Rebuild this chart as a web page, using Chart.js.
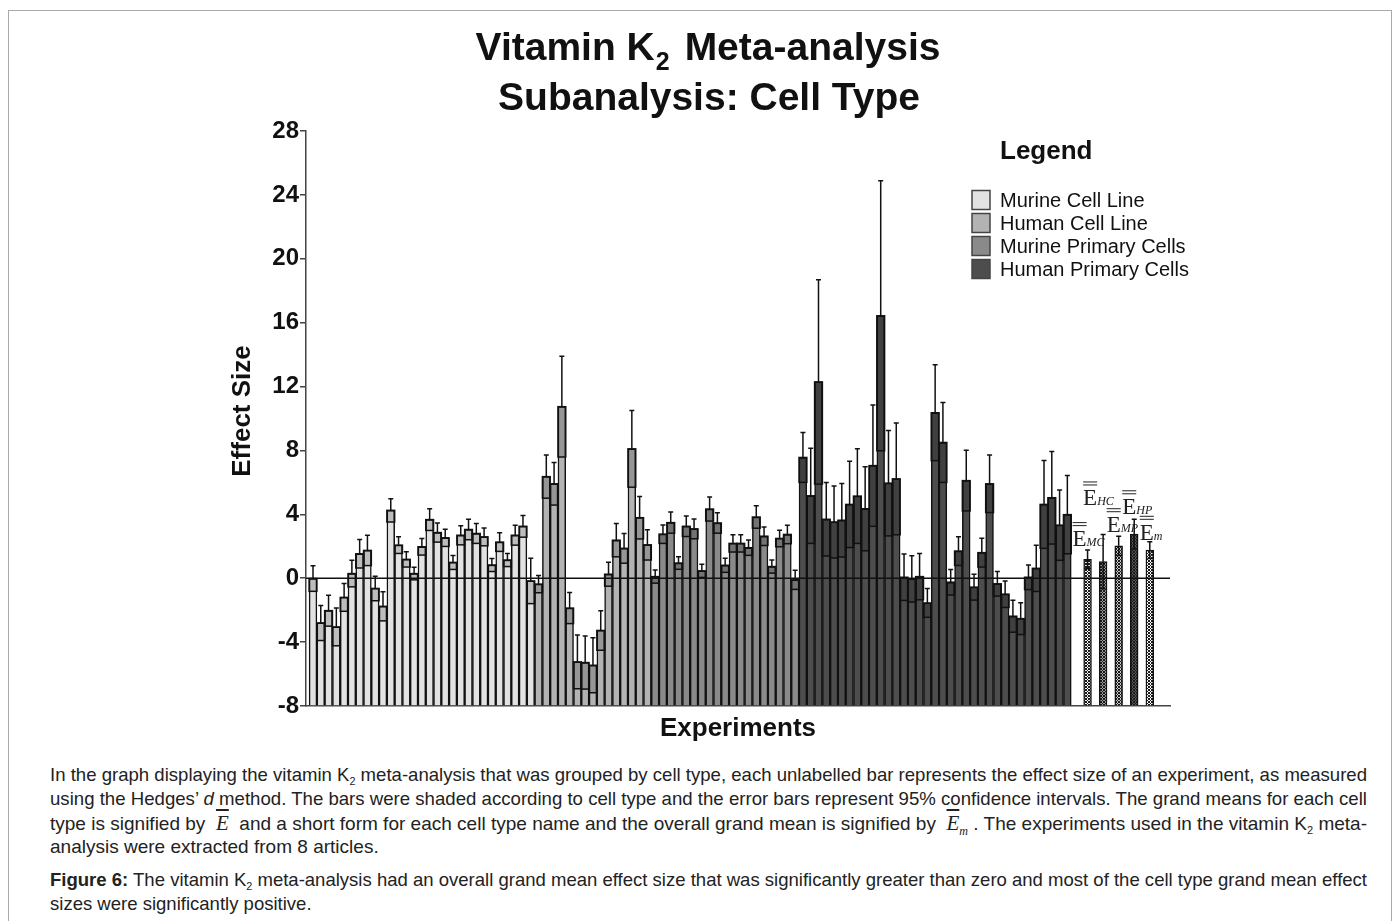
<!DOCTYPE html>
<html>
<head>
<meta charset="utf-8">
<script src="https://cdn.jsdelivr.net/npm/chart.js@4.4.1/dist/chart.umd.min.js"></script>
<style>
    body { margin: 0; width: 1398px; height: 921px; overflow: hidden; background: #fff; font-family: 'Liberation Sans', Arial, sans-serif; }
    #frame { position: absolute; left: 8px; top: 10px; width: 1382px; height: 1000px; border: 1px solid #aaa; }
    #wrap { position: absolute; left: 0; top: 0; width: 1398px; height: 760px; }
    .cap { position: absolute; left: 50px; width: 1317px; font-family: 'Liberation Sans', Arial, sans-serif; font-size: 19px; color: #222; }
    .cap .ln { display: block; height: 24px; line-height: 24px; white-space: nowrap; }
    .cap .ln span.t { display: inline-block; transform-origin: 0 50%; }
    .cap sub { font-size: 11px; vertical-align: -4px; line-height: 0; }
    .ebar { font-family: 'Liberation Serif', serif; font-style: italic; font-size: 21px; text-decoration: overline; }
    .esub { font-family: 'Liberation Serif', serif; font-style: italic; font-size: 12px; vertical-align: -5px; line-height: 0; }
</style>
</head>
<body>
<div id="frame"></div>
<div id="wrap"><canvas id="chart" width="1398" height="760"></canvas></div>

<div class="cap" style="top:763px;">
    <div class="ln full"><span class="t">In the graph displaying the vitamin K<sub>2</sub> meta-analysis that was grouped by cell type, each unlabelled bar represents the effect size of an experiment, as measured</span></div>
    <div class="ln full"><span class="t">using the Hedges’ <i>d</i> method. The bars were shaded according to cell type and the error bars represent 95% confidence intervals. The grand means for each cell</span></div>
    <div class="ln full"><span class="t">type is signified by &nbsp;<span class="ebar">E</span>&nbsp; and a short form for each cell type name and the overall grand mean is signified by &nbsp;<span class="ebar">E</span><span class="esub">m</span> . The experiments used in the vitamin K<sub>2</sub> meta-</span></div>
    <div class="ln"><span class="t">analysis were extracted from 8 articles.</span></div>
</div>
<div class="cap" style="top:868px;">
    <div class="ln full"><span class="t"><b>Figure 6:</b> The vitamin K<sub>2</sub> meta-analysis had an overall grand mean effect size that was significantly greater than zero and most of the cell type grand mean effect</span></div>
    <div class="ln"><span class="t">sizes were significantly positive.</span></div>
</div>

<script>
// ---------- dados ----------
const groupNames = ['Murine Cell Line', 'Human Cell Line', 'Murine Primary Cells', 'Human Primary Cells'];

const murineCellLine = [-0.02, -2.80, -2.03, -3.05, -1.20, 0.29, 1.53, 1.74, -0.64, -1.76,
    4.25, 2.07, 1.18, 0.29, 1.97, 3.67, 2.86, 2.53, 0.99, 2.69,
    3.05, 2.80, 2.59, 0.83, 2.26, 1.14, 2.69, 3.25, -0.17];
const murineCellLineErr = [0.80, 1.10, 0.97, 1.18, 0.87, 0.83, 0.89, 0.95, 0.77, 0.91,
    0.73, 0.52, 0.48, 0.39, 0.52, 0.68, 0.60, 0.54, 0.44, 0.60,
    0.64, 0.62, 0.56, 0.41, 0.58, 0.41, 0.62, 0.68, 1.42];

const humanCellLine = [-0.37, 6.36, 5.91, 10.74, -1.87, -5.24, -5.28, -5.45, -3.27, 0.25,
    2.38, 1.87, 8.10, 3.79, 2.09];
const humanCellLineErr = [0.54, 1.35, 1.33, 3.15, 0.97, 1.68, 1.66, 1.72, 1.24, 0.75,
    1.04, 0.93, 2.40, 1.33, 0.95];

const murinePrimary = [0.10, 2.76, 3.48, 0.95, 3.25, 3.09, 0.46, 4.33, 3.46, 0.81,
    2.18, 2.18, 1.91, 3.83, 2.63, 0.73, 2.49, 2.74, -0.10];
const murinePrimaryErr = [0.41, 0.58, 0.66, 0.39, 0.64, 0.62, 0.41, 0.75, 0.64, 0.44,
    0.54, 0.54, 0.48, 0.70, 0.58, 0.41, 0.52, 0.58, 0.60];

const humanPrimary = [7.56, 5.16, 12.29, 3.69, 3.52, 3.63, 4.62, 5.14, 4.35, 7.05,
    16.43, 5.95, 6.22, 0.06, -0.04, 0.10, -1.55, 10.36, 8.50, -0.25,
    1.70, 6.11, -0.56, 1.60, 5.91, -0.35, -1.00, -2.38, -2.53, 0.06,
    0.62, 4.62, 5.04, 3.32, 3.98];
const humanPrimaryErr = [1.56, 2.98, 6.40, 2.30, 2.25, 2.30, 2.70, 2.96, 2.63, 3.80,
    8.45, 3.30, 3.50, 1.45, 1.45, 1.45, 0.90, 3.00, 2.50, 0.80,
    0.90, 1.90, 0.81, 0.90, 1.80, 0.77, 0.83, 1.00, 1.00, 0.77,
    1.45, 2.75, 2.90, 2.20, 2.45];

const grandMeanNames = ['MC', 'HC', 'MP', 'HP', 'm'];
const grandMeans = [1.18, 1.04, 2.03, 2.76, 1.76];
const grandMeanErr = [0.58, 1.70, 0.60, 0.93, 0.52];

const yMin = -8, yMax = 28, yStep = 4;

// ---------- estilo ----------
const FONT = "'Liberation Sans', Arial, sans-serif";
const groupColors = ['#e2e2e2', '#b3b3b3', '#8a8a8a', '#4d4d4d'];
const gmColors = ['#f2f2f2', '#9a9a9a', '#c8c8c8', '#555555', '#ffffff'];
const gmLabelShift = [-15, -20, -12, -12, -10];
const gmLabelLift = [4, 29, 4, 5, 2];

function makePattern(light) {
    const c = document.createElement('canvas');
    c.width = 3; c.height = 3;
    const p = c.getContext('2d');
    p.fillStyle = light; p.fillRect(0, 0, 3, 3);
    p.fillStyle = '#1a1a1a';
    p.fillRect(0, 0, 1, 1); p.fillRect(2, 0, 1, 1); p.fillRect(1, 1, 1, 1); p.fillRect(0, 2, 1, 1); p.fillRect(2, 2, 1, 1);
    return p.createPattern(c, 'repeat');
}

const groups = [
    [murineCellLine, murineCellLineErr],
    [humanCellLine, humanCellLineErr],
    [murinePrimary, murinePrimaryErr],
    [humanPrimary, humanPrimaryErr]
];

let pos = 1;
const datasets = groups.map((g, gi) => ({
    label: groupNames[gi],
    data: g[0].map(v => ({ x: pos++, y: v })),
    err: g[1],
    boxed: true,
    backgroundColor: groupColors[gi],
    borderColor: '#111',
    borderWidth: 1.5,
    base: yMin,
    grouped: false,
    barThickness: 7.78
}));

const gmStart = pos + 1.6;
datasets.push({
    label: 'Grand means',
    data: grandMeans.map((v, k) => ({ x: gmStart + 2 * k, y: v })),
    err: grandMeanErr,
    boxed: false,
    backgroundColor: gmColors.map(makePattern),
    borderColor: '#111',
    borderWidth: 1.5,
    base: yMin,
    grouped: false,
    barThickness: 7.78
});

// barras de erro + linha do zero
const errorBars = {
    id: 'errorBars',
    afterDatasetsDraw(chart) {
        const ctx = chart.ctx;
        const ys = chart.scales.y;
        chart.data.datasets.forEach((ds, di) => {
            const meta = chart.getDatasetMeta(di);
            meta.data.forEach((bar, i) => {
                const v = ds.data[i].y, e = ds.err[i];
                const w = bar.width;
                const top = ys.getPixelForValue(v);
                const up = ys.getPixelForValue(v + e);
                const lo = ys.getPixelForValue(v - e);
                ctx.save();
                ctx.strokeStyle = '#111';
                ctx.lineWidth = 1.5;
                if (ds.boxed) {
                    ctx.fillStyle = 'rgba(0,0,0,0.16)';
                    ctx.fillRect(bar.x - w / 2, top, w, lo - top);
                    ctx.strokeRect(bar.x - w / 2, top, w, lo - top);
                } else {
                    ctx.beginPath();
                    ctx.moveTo(bar.x, top); ctx.lineTo(bar.x, lo);
                    ctx.moveTo(bar.x - 2.5, lo); ctx.lineTo(bar.x + 2.5, lo);
                    ctx.stroke();
                }
                ctx.beginPath();
                ctx.moveTo(bar.x, top); ctx.lineTo(bar.x, up);
                ctx.moveTo(bar.x - 2.5, up); ctx.lineTo(bar.x + 2.5, up);
                ctx.stroke();
                ctx.restore();
            });
        });
        const a = chart.chartArea;
        const y0 = ys.getPixelForValue(0);
        ctx.save();
        ctx.strokeStyle = '#111';
        ctx.lineWidth = 1.5;
        ctx.beginPath(); ctx.moveTo(a.left, y0); ctx.lineTo(a.right, y0); ctx.stroke();
        ctx.restore();
    }
};

// títulos, legenda e rótulos das médias
const annotations = {
    id: 'annotations',
    afterDraw(chart) {
        const ctx = chart.ctx;
        const ys = chart.scales.y;
        ctx.save();
        ctx.fillStyle = '#111';
        ctx.textBaseline = 'alphabetic';

        // título
        ctx.font = 'bold 39px ' + FONT;
        const p1 = 'Vitamin K', p3 = 'Meta-analysis';
        const w1 = ctx.measureText(p1).width, w3 = ctx.measureText(p3).width;
        ctx.font = 'bold 25px ' + FONT;
        const w2 = ctx.measureText('2').width;
        const gap = 16;
        let x = 708 - (w1 + w2 + gap + w3) / 2;
        ctx.font = 'bold 39px ' + FONT;
        ctx.textAlign = 'left';
        ctx.fillText(p1, x, 60);
        ctx.font = 'bold 25px ' + FONT;
        ctx.fillText('2', x + w1 + 1, 70);
        ctx.font = 'bold 39px ' + FONT;
        ctx.fillText(p3, x + w1 + w2 + gap, 60);
        ctx.textAlign = 'center';
        ctx.fillText('Subanalysis: Cell Type', 709, 110);

        // títulos dos eixos
        ctx.font = 'bold 26px ' + FONT;
        ctx.textBaseline = 'middle';
        ctx.fillText('Experiments', (chart.chartArea.left + chart.chartArea.right) / 2, 729);
        ctx.save();
        ctx.translate(243, 411);
        ctx.rotate(-Math.PI / 2);
        ctx.fillText('Effect Size', 0, 0);
        ctx.restore();

        // legenda
        ctx.textAlign = 'left';
        ctx.fillText('Legend', 1000, 152);
        ctx.font = '20px ' + FONT;
        groupNames.forEach((name, i) => {
            const yy = 200 + 23 * i;
            ctx.fillStyle = groupColors[i];
            ctx.fillRect(972, yy - 9.5, 18, 19);
            ctx.strokeStyle = '#444';
            ctx.lineWidth = 1.5;
            ctx.strokeRect(972, yy - 9.5, 18, 19);
            ctx.fillStyle = '#111';
            ctx.fillText(name, 1000, yy + 1);
        });

        // rótulos das médias gerais
        const meta = chart.getDatasetMeta(chart.data.datasets.length - 1);
        ctx.textBaseline = 'alphabetic';
        meta.data.forEach((bar, k) => {
            const base = ys.getPixelForValue(grandMeans[k] + grandMeanErr[k]) - gmLabelLift[k];
            const x0 = bar.x + gmLabelShift[k];
            ctx.font = '23px "Liberation Serif", serif';
            ctx.fillStyle = '#222';
            const ew = ctx.measureText('E').width;
            ctx.fillText('E', x0, base);
            ctx.strokeStyle = '#222';
            ctx.lineWidth = 1;
            ctx.beginPath();
            ctx.moveTo(x0, base - 20.5); ctx.lineTo(x0 + ew, base - 20.5);
            ctx.moveTo(x0, base - 23.5); ctx.lineTo(x0 + ew, base - 23.5);
            ctx.stroke();
            ctx.font = 'italic 12px "Liberation Serif", serif';
            ctx.fillText(grandMeanNames[k], x0 + ew, base);
        });
        ctx.restore();
    }
};

new Chart(document.getElementById('chart'), {
    type: 'bar',
    data: { datasets },
    options: {
        responsive: false,
        animation: false,
        layout: { padding: { left: 216, right: 228, top: 131, bottom: 54 } },
        plugins: { legend: { display: false }, tooltip: { enabled: false } },
        scales: {
            x: {
                type: 'linear',
                offset: false,
                min: 0.1,
                max: 111.2,
                ticks: { display: false },
                grid: { display: false, drawTicks: false },
                border: { display: true, color: '#444', width: 1.5 },
                afterFit: s => { s.height = 0; }
            },
            y: {
                min: yMin,
                max: yMax,
                ticks: { stepSize: yStep, color: '#111', font: { family: FONT, size: 24, weight: 'bold' }, padding: 1 },
                grid: { drawOnChartArea: false, tickLength: 6, color: '#444', lineWidth: 1.5 },
                border: { display: true, color: '#444', width: 1.5 },
                afterFit: s => { s.width = 90; }
            }
        }
    },
    plugins: [errorBars, annotations]
});

// legenda do rodapé: linhas condensadas na largura do texto original
const capWidth = 1317;
let lastScale = 0.85;
document.querySelectorAll('.cap .ln').forEach(ln => {
    const t = ln.querySelector('.t');
    const w = t.getBoundingClientRect().width;
    if (ln.classList.contains('full')) lastScale = capWidth / w;
    t.style.transform = 'scaleX(' + lastScale + ')';
});
</script>
</body>
</html>
